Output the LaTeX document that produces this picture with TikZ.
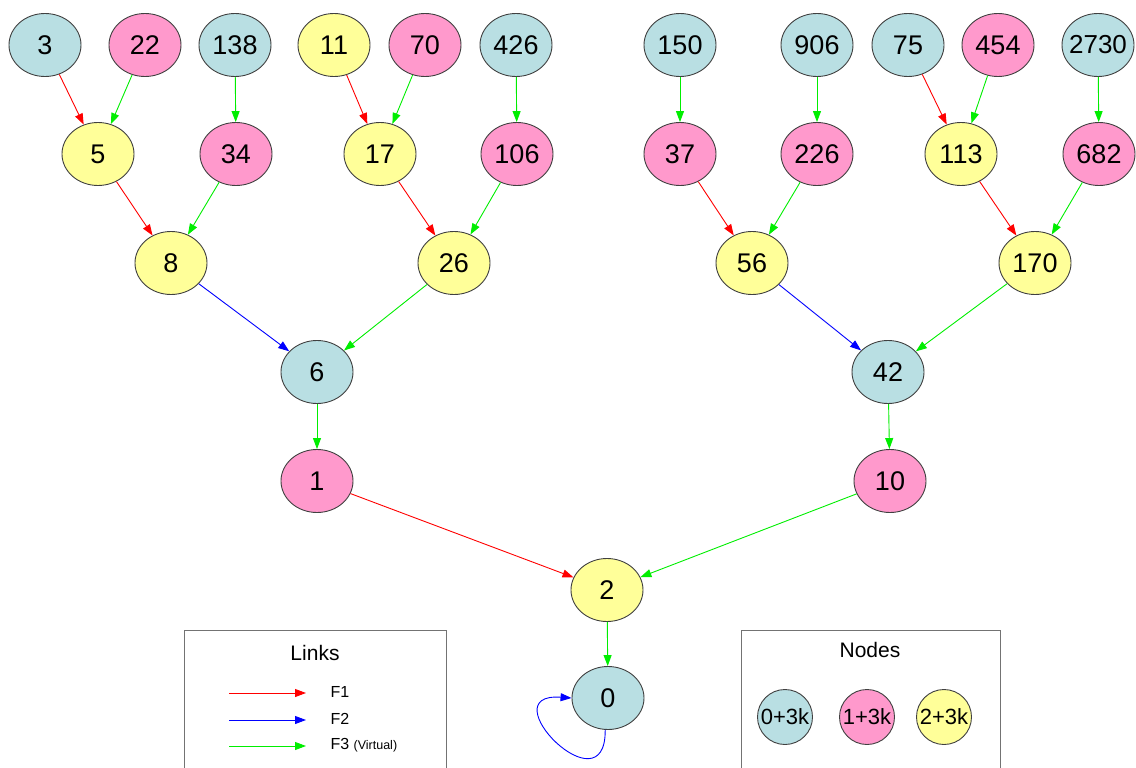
\documentclass[tikz,border=0pt]{standalone}
\usepackage{fontspec}
\setmainfont{Liberation Sans}
\usetikzlibrary{arrows.meta,shapes.geometric}
\definecolor{cteal}{HTML}{B9DFE3}
\definecolor{cpink}{HTML}{FF99CC}
\definecolor{cyel}{HTML}{FFFF99}
\definecolor{cred}{HTML}{FF0000}
\definecolor{cblue}{HTML}{0000FF}
\definecolor{cgreen}{HTML}{00EE00}
\tikzset{
  nd/.style={ellipse, draw=black!75, line width=0.9pt, minimum width=72pt, minimum height=63pt, inner sep=0pt, font=\fontsize{27}{30}\selectfont},
  t0/.style={nd, fill=cteal},
  t1/.style={nd, fill=cpink},
  t2/.style={nd, fill=cyel},
  lg/.style={circle, draw=black!75, line width=0.9pt, minimum size=55pt, inner sep=0pt, font=\fontsize{22}{24}\selectfont},
  fa/.style={line width=0.9pt, draw=cred, -{Triangle[length=11pt,width=8pt,fill=cred]}},
  fb/.style={line width=0.9pt, draw=cblue, -{Triangle[length=11pt,width=8pt,fill=cblue]}},
  fc/.style={line width=0.9pt, draw=cgreen, -{Triangle[length=11pt,width=8pt,fill=cgreen]}},
  box/.style={draw=black!55, line width=1.3pt, fill=white},
  lt/.style={anchor=west, font=\fontsize{16}{18}\selectfont},
}
\begin{document}
\begin{tikzpicture}[x=1pt,y=-1pt]
\useasboundingbox (0,0) rectangle (1136,768);
% row 1
\node[t0] (n3) at (45,45) {3};
\node[t1] (n22) at (145,45) {22};
\node[t0] (n138) at (235,45) {138};
\node[t2] (n11) at (334,45) {11};
\node[t1] (n70) at (425,45) {70};
\node[t0] (n426) at (516,45) {426};
\node[t0] (n150) at (680,45) {150};
\node[t0] (n906) at (817,45) {906};
\node[t0] (n75) at (908,45) {75};
\node[t1] (n454) at (998,45) {454};
\node[t0] (n2730) at (1098,45) {\makebox[36pt]{\fontsize{26}{30}\selectfont 2730}};
% row 2
\node[t2] (n5) at (98,154) {5};
\node[t1] (n34) at (236,154) {34};
\node[t2] (n17) at (380,154) {17};
\node[t1] (n106) at (517,154) {106};
\node[t1] (n37) at (680,154) {37};
\node[t1] (n226) at (817,154) {226};
\node[t2] (n113) at (961,154) {113};
\node[t1] (n682) at (1099,154) {682};
% row 3
\node[t2] (n8) at (171,263) {8};
\node[t2] (n26) at (454,263) {26};
\node[t2] (n56) at (752,263) {56};
\node[t2] (n170) at (1035,263) {170};
% row 4
\node[t0] (n6) at (317,372) {6};
\node[t0] (n42) at (888,372) {42};
% row 5
\node[t1] (n1) at (317,481) {1};
\node[t1] (n10) at (890,481) {10};
% row 6
\node[t2] (n2) at (607,590) {2};
\node[t0] (n0) at (608,698) {0};
% edges
\draw[fa] (n3) -- (n5);
\draw[fc] (n22) -- (n5);
\draw[fc] (n138) -- (n34);
\draw[fa] (n11) -- (n17);
\draw[fc] (n70) -- (n17);
\draw[fc] (n426) -- (n106);
\draw[fa] (n5) -- (n8);
\draw[fc] (n34) -- (n8);
\draw[fa] (n17) -- (n26);
\draw[fc] (n106) -- (n26);
\draw[fb] (n8) -- (n6);
\draw[fc] (n26) -- (n6);
\draw[fc] (n6) -- (n1);
\draw[fa] (n1) -- (n2);
\draw[fc] (n150) -- (n37);
\draw[fc] (n906) -- (n226);
\draw[fa] (n75) -- (n113);
\draw[fc] (n454) -- (n113);
\draw[fc] (n2730) -- (n682);
\draw[fa] (n37) -- (n56);
\draw[fc] (n226) -- (n56);
\draw[fa] (n113) -- (n170);
\draw[fc] (n682) -- (n170);
\draw[fb] (n56) -- (n42);
\draw[fc] (n170) -- (n42);
\draw[fc] (n42) -- (n10);
\draw[fc] (n10) -- (n2);
\draw[fc] (n2) -- (n0);
\draw[fb] (n0.-95) .. controls (606,812) and (488,692) .. (n0.west);
% legend links
\node[box, minimum width=262pt, minimum height=160pt, anchor=north west] (lbox) at (184,630) {};
\node[font=\fontsize{21}{24}\selectfont] (ltitle) at (315,653) {Links};
\coordinate (la1) at (229,693); \coordinate (lb1) at (306,693);
\coordinate (la2) at (229,720); \coordinate (lb2) at (306,720);
\coordinate (la3) at (229,746); \coordinate (lb3) at (306,746);
\draw[fa] (la1) -- (lb1);
\draw[fb] (la2) -- (lb2);
\draw[fc] (la3) -- (lb3);
\node[lt] (lt1) at (327,692) {F1};
\node[lt] (lt2) at (327,719) {F2};
\node[lt] (lt3) at (327,745) {F3 {\fontsize{12.5}{14}\selectfont(Virtual)}};
% legend nodes
\node[box, minimum width=259pt, minimum height=160pt, anchor=north west] (nbox) at (741,630) {};
\node[font=\fontsize{21}{24}\selectfont] (ntitle) at (870,650) {Nodes};
\node[lg, fill=cteal] (k0) at (785,717) {0+3k};
\node[lg, fill=cpink] (k1) at (867,717) {1+3k};
\node[lg, fill=cyel] (k2) at (944,717) {2+3k};
\end{tikzpicture}
\end{document}
